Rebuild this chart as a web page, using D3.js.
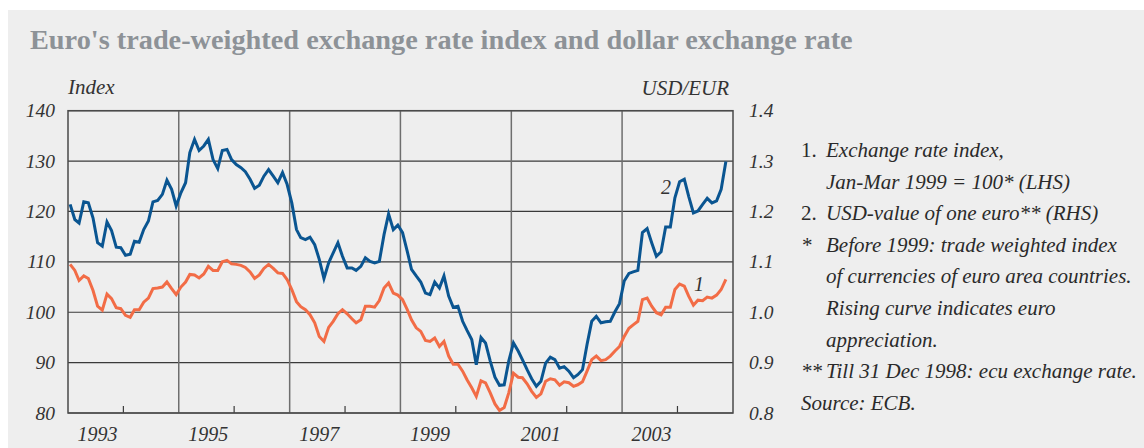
<!DOCTYPE html>
<html>
<head>
<meta charset="utf-8">
<script src="https://cdn.jsdelivr.net/npm/d3@7"></script>
<style>
  body { margin: 0; background: #ffffff; }
  text { font-family: "Liberation Serif", "DejaVu Serif", serif; }
</style>
</head>
<body>
<div id="chart"></div>
<script>
// monthly data, Jan 1993 - Nov 2004
let startYear = 1993;

// 1. trade-weighted exchange rate index (LHS)
let indexValues = [
  109.5, 108.3, 106.3, 107.2, 106.7, 104.3, 101.2, 100.4, 103.6, 102.7, 100.9, 100.7,
  99.4, 99.0, 100.5, 100.5, 102.0, 102.8, 104.7, 104.8, 105.0, 106.0, 104.7, 103.5,
  105.0, 106.0, 107.5, 107.4, 106.8, 107.6, 109.1, 108.3, 108.3, 110.0, 110.3, 109.6,
  109.5, 109.3, 108.9, 108.0, 106.7, 107.4, 108.7, 109.5, 108.7, 107.8, 107.7, 106.5,
  104.5, 102.1, 101.1, 100.5, 99.5, 97.9, 95.2, 94.2, 97.0, 98.2, 99.7, 100.5,
  99.7, 98.7, 97.9, 98.5, 101.2, 101.2, 101.0, 102.3, 104.8, 105.8, 103.8, 103.4,
  102.5, 100.5, 98.5, 96.9, 96.2, 94.4, 94.2, 94.9, 93.2, 94.2, 91.3, 89.7,
  89.7, 88.3, 86.6, 85.0, 83.3, 86.4, 86.0, 84.0, 81.8, 80.5, 81.1, 84.0,
  87.9, 87.1, 87.0, 85.8, 84.3, 83.1, 83.8, 86.3, 86.8, 86.6, 85.5, 86.2,
  86.0, 85.3, 85.6, 86.2, 88.3, 90.6, 91.3, 90.4, 90.6, 91.3, 92.3, 93.2,
  95.2, 96.8, 97.5, 98.2, 102.5, 102.8, 101.2, 99.9, 99.5, 101.0, 101.0, 104.5,
  105.6, 105.2, 103.2, 101.4, 102.4, 102.3, 103.0, 102.8, 103.4, 104.5, 106.5
];

// 2. USD-value of one euro (RHS)
let usdValues = [
  1.214, 1.184, 1.177, 1.219, 1.217, 1.187, 1.138, 1.131, 1.179, 1.162, 1.129, 1.128,
  1.113, 1.115, 1.141, 1.139, 1.164, 1.181, 1.219, 1.222, 1.234, 1.262, 1.244, 1.211,
  1.237, 1.257, 1.317, 1.343, 1.321, 1.330, 1.343, 1.303, 1.285, 1.321, 1.323, 1.303,
  1.293, 1.287, 1.279, 1.264, 1.246, 1.252, 1.270, 1.283, 1.270, 1.257, 1.277, 1.254,
  1.217, 1.164, 1.148, 1.144, 1.149, 1.134, 1.105, 1.067, 1.098, 1.118, 1.138, 1.111,
  1.088, 1.088, 1.083, 1.091, 1.108, 1.101, 1.098, 1.101, 1.154, 1.195, 1.164, 1.173,
  1.158, 1.121, 1.085, 1.072, 1.060, 1.038, 1.035, 1.060, 1.048, 1.072, 1.032, 1.010,
  1.012, 0.982, 0.964, 0.946, 0.896, 0.950, 0.939, 0.903, 0.871, 0.855, 0.856, 0.903,
  0.939, 0.923, 0.906, 0.886, 0.868, 0.853, 0.863, 0.899, 0.911, 0.906, 0.889, 0.892,
  0.883, 0.870, 0.876, 0.886, 0.936, 0.982, 0.992, 0.979, 0.981, 0.982, 1.001, 1.017,
  1.062, 1.077, 1.080, 1.083, 1.158, 1.166, 1.138, 1.111, 1.120, 1.169, 1.169, 1.227,
  1.259, 1.264, 1.230, 1.197, 1.201, 1.214, 1.226, 1.217, 1.221, 1.244, 1.299
];

let leftTicks = [80, 90, 100, 110, 120, 130, 140];
let rightTicks = [0.8, 0.9, 1.0, 1.1, 1.2, 1.3, 1.4];
let yearLabels = [1993, 1995, 1997, 1999, 2001, 2003];
let gridYears = [1995, 1997, 1999, 2001, 2003];
let minorYears = [1994, 1996, 1998, 2000, 2002, 2004];

let notes = [
  { mark: '1.', text: 'Exchange rate index,' },
  { mark: '', text: 'Jan-Mar 1999 = 100* (LHS)' },
  { mark: '2.', text: 'USD-value of one euro** (RHS)' },
  { mark: '*', text: 'Before 1999: trade weighted index' },
  { mark: '', text: 'of currencies of euro area countries.' },
  { mark: '', text: 'Rising curve indicates euro' },
  { mark: '', text: 'appreciation.' },
  { mark: '**', text: 'Till 31 Dec 1998: ecu exchange rate.' },
  { mark: '', text: 'Source: ECB.', flush: true }
];

let svgWidth = 1144;
let svgHeight = 448;

let plot = { left: 68, right: 733, top: 110.7, bottom: 413 };

let svg = d3.select('#chart')
  .append('svg')
  .attr('width', svgWidth)
  .attr('height', svgHeight);

// grey panel
svg.append('rect')
  .attr('x', 8)
  .attr('y', 10)
  .attr('width', svgWidth - 8)
  .attr('height', svgHeight - 10)
  .attr('fill', '#eeeeee');

// title
svg.append('text')
  .attr('x', 30)
  .attr('y', 49)
  .attr('font-size', 28.3)
  .attr('font-weight', 'bold')
  .attr('fill', '#8d9297')
  .text("Euro's trade-weighted exchange rate index and dollar exchange rate");

// scales
let x = d3.scaleTime()
  .domain([new Date(startYear, 0, 1), new Date(2005, 0, 1)])
  .range([plot.left, plot.right]);

let yLeft = d3.scaleLinear()
  .domain([80, 140])
  .range([plot.bottom, plot.top]);

let yRight = d3.scaleLinear()
  .domain([0.8, 1.4])
  .range([plot.bottom, plot.top]);

let monthDate = i => new Date(startYear, i, 15);

// horizontal gridlines
svg.append('g')
  .selectAll('line')
  .data(leftTicks)
  .enter()
  .append('line')
  .attr('x1', plot.left)
  .attr('x2', plot.right)
  .attr('y1', d => yLeft(d))
  .attr('y2', d => yLeft(d))
  .attr('stroke', '#3a3a3a')
  .attr('stroke-width', 1.2);

// vertical gridlines
svg.append('g')
  .selectAll('line')
  .data(gridYears)
  .enter()
  .append('line')
  .attr('x1', d => x(new Date(d, 0, 1)))
  .attr('x2', d => x(new Date(d, 0, 1)))
  .attr('y1', plot.top)
  .attr('y2', plot.bottom)
  .attr('stroke', '#6e6e6e')
  .attr('stroke-width', 1.5);

// minor ticks on the bottom
svg.append('g')
  .selectAll('line')
  .data(minorYears)
  .enter()
  .append('line')
  .attr('x1', d => x(new Date(d, 0, 1)))
  .attr('x2', d => x(new Date(d, 0, 1)))
  .attr('y1', plot.bottom - 7)
  .attr('y2', plot.bottom)
  .attr('stroke', '#3a3a3a')
  .attr('stroke-width', 1.2);

// frame
svg.append('rect')
  .attr('x', plot.left)
  .attr('y', plot.top)
  .attr('width', plot.right - plot.left)
  .attr('height', plot.bottom - plot.top)
  .attr('fill', 'none')
  .attr('stroke', '#4a4a4a')
  .attr('stroke-width', 1.5);

// lines
let indexLine = d3.line()
  .x((d, i) => x(monthDate(i)))
  .y(d => yLeft(d));

let usdLine = d3.line()
  .x((d, i) => x(monthDate(i)))
  .y(d => yRight(d));

svg.append('path')
  .datum(indexValues)
  .attr('d', indexLine)
  .attr('fill', 'none')
  .attr('stroke', '#f26c46')
  .attr('stroke-width', 3)
  .attr('stroke-linejoin', 'miter');

svg.append('path')
  .datum(usdValues)
  .attr('d', usdLine)
  .attr('fill', 'none')
  .attr('stroke', '#0a5591')
  .attr('stroke-width', 3)
  .attr('stroke-linejoin', 'miter');

// axis labels
let labelColor = '#333333';

svg.append('g')
  .selectAll('text')
  .data(leftTicks)
  .enter()
  .append('text')
  .attr('x', 55)
  .attr('y', d => yLeft(d))
  .attr('dy', '0.34em')
  .attr('text-anchor', 'end')
  .attr('font-size', 19.5)
  .attr('font-style', 'italic')
  .attr('fill', labelColor)
  .text(d => d);

svg.append('g')
  .selectAll('text')
  .data(rightTicks)
  .enter()
  .append('text')
  .attr('x', 749)
  .attr('y', d => yRight(d))
  .attr('dy', '0.34em')
  .attr('font-size', 19.5)
  .attr('font-style', 'italic')
  .attr('fill', labelColor)
  .text(d => d.toFixed(1));

svg.append('g')
  .selectAll('text')
  .data(yearLabels)
  .enter()
  .append('text')
  .attr('x', d => x(new Date(d, 6, 1)) + 2)
  .attr('y', 441)
  .attr('text-anchor', 'middle')
  .attr('font-size', 20)
  .attr('font-style', 'italic')
  .attr('fill', labelColor)
  .text(d => d);

svg.append('text')
  .attr('x', 68)
  .attr('y', 94)
  .attr('font-size', 21)
  .attr('font-style', 'italic')
  .attr('fill', labelColor)
  .text('Index');

svg.append('text')
  .attr('x', 729)
  .attr('y', 95)
  .attr('text-anchor', 'end')
  .attr('font-size', 21)
  .attr('font-style', 'italic')
  .attr('fill', labelColor)
  .text('USD/EUR');

// series labels
svg.append('text')
  .attr('x', 671)
  .attr('y', yRight(1.235))
  .attr('text-anchor', 'end')
  .attr('font-size', 20)
  .attr('font-style', 'italic')
  .attr('fill', labelColor)
  .text('2');

svg.append('text')
  .attr('x', 694)
  .attr('y', yLeft(104.3))
  .attr('font-size', 20)
  .attr('font-style', 'italic')
  .attr('fill', labelColor)
  .text('1');

// notes on the right
let notesGroup = svg.append('g')
  .attr('font-size', 21)
  .attr('font-style', 'italic')
  .attr('fill', '#2a2a2a');

notes.forEach(function (n, i) {
  let yPos = 157 + i * 31.6;
  if (n.mark) {
    notesGroup.append('text')
      .attr('x', 801)
      .attr('y', yPos)
      .attr('font-style', n.mark.indexOf('*') >= 0 ? 'italic' : 'normal')
      .text(n.mark);
  }
  notesGroup.append('text')
    .attr('x', n.flush ? 801 : 826)
    .attr('y', yPos)
    .text(n.text);
});
</script>
</body>
</html>
